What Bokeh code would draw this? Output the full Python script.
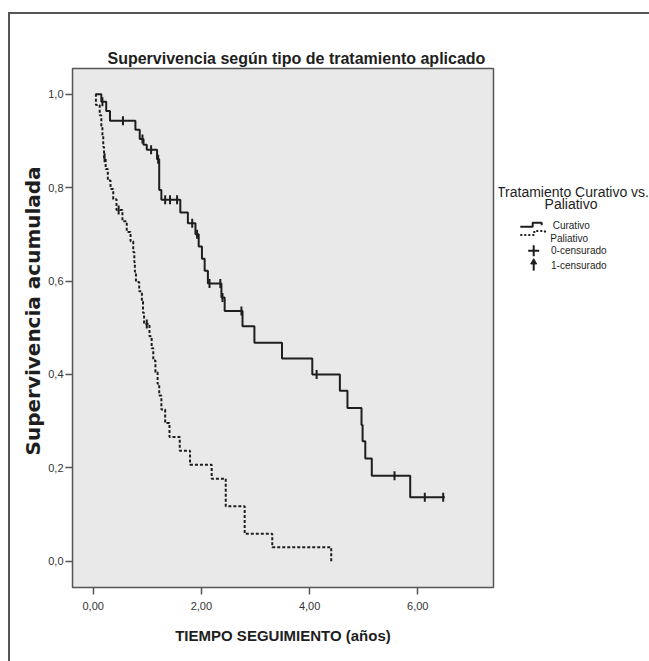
import numpy as np
from bokeh.plotting import figure
from bokeh.models import Range1d, FixedTicker, Title
from bokeh.layouts import row
from bokeh.embed import file_html
from bokeh.resources import INLINE
from bokeh.core.properties import value

# ---------------- data ----------------
# Curativo: step times (years) and survival after each step
cur_t = [0.05, 0.15, 0.24, 0.31, 0.78, 0.86, 0.93, 0.99, 1.18, 1.22, 1.26, 1.61, 1.75,
         1.89, 1.95, 2.01, 2.06, 2.12, 2.37, 2.43, 2.76, 2.98, 3.49, 4.05, 4.56, 4.70,
         4.96, 4.98, 5.03, 5.15, 5.86, 6.50]
cur_s = [1.000, 0.984, 0.964, 0.943, 0.924, 0.904, 0.892, 0.881, 0.861, 0.795, 0.774,
         0.747, 0.724, 0.700, 0.674, 0.648, 0.622, 0.595, 0.565, 0.536, 0.503, 0.468,
         0.434, 0.400, 0.365, 0.328, 0.292, 0.257, 0.220, 0.183, 0.137, 0.137]
cur_cens = [0.17, 0.55, 0.91, 1.07, 1.20, 1.33, 1.42, 1.55, 1.83, 1.92, 2.15, 2.35,
            2.39, 2.74, 4.13, 5.57, 6.13, 6.47]

# Paliativo
pal_t = [0.04, 0.05, 0.12, 0.15, 0.17, 0.185, 0.20, 0.23, 0.27, 0.32, 0.37, 0.43, 0.54,
         0.62, 0.69, 0.74, 0.76, 0.77, 0.79, 0.85, 0.90, 0.92, 0.94, 1.04, 1.08, 1.11,
         1.15, 1.19, 1.22, 1.26, 1.33, 1.41, 1.60, 1.79, 2.19, 2.45, 2.80, 3.31, 4.40]
pal_s = [1.000, 0.977, 0.955, 0.932, 0.910, 0.887, 0.864, 0.840, 0.815, 0.797, 0.775,
         0.752, 0.728, 0.705, 0.685, 0.662, 0.640, 0.620, 0.598, 0.578, 0.556, 0.532,
         0.508, 0.482, 0.456, 0.430, 0.405, 0.380, 0.355, 0.325, 0.296, 0.266, 0.237,
         0.207, 0.177, 0.118, 0.059, 0.030, 0.000]
pal_cens = [0.21, 0.47, 0.99]

x_ticks = [0, 2, 4, 6]
x_labels = ["0,00", "2,00", "4,00", "6,00"]
y_ticks = [0.0, 0.2, 0.4, 0.6, 0.8, 1.0]
y_labels = ["0,0", "0,2", "0,4", "0,6", "0,8", "1,0"]

title_text = "Supervivencia según tipo de tratamiento aplicado"
x_title = "TIEMPO SEGUIMIENTO (años)"
y_title = "Supervivencia acumulada"
legend_title = ["Tratamiento Curativo vs.", "Paliativo"]
legend_items = ["Curativo", "Paliativo", "0-censurado", "1-censurado"]


def level_at(ts, ss, t):
    idx = np.searchsorted(np.array(ts), np.array(t), side="right") - 1
    return list(np.array(ss)[idx])


FONT = "Liberation Sans"
INK = "#1e1e1e"

# ---------------- main plot ----------------
p = figure(width=488, height=647,
           x_range=Range1d(-0.383, 7.40), y_range=Range1d(-0.056, 1.055),
           output_backend="svg", toolbar_location=None,
           min_border_left=62, min_border_right=5, min_border_top=54, min_border_bottom=74)
p.background_fill_color = "#e9e9e9"
p.border_fill_color = "white"
p.outline_line_color = "#555555"
p.outline_line_width = 1.5
p.grid.visible = False

p.title.text = title_text
p.title.align = "left"
p.title.offset = 35
p.title.standoff = 3
p.title.text_font = FONT
p.title.text_font_size = "16px"
p.title.text_font_style = "bold"
p.title.text_color = INK

for ax in (p.xaxis[0], p.yaxis[0]):
    ax.axis_line_color = None
    ax.major_tick_line_color = "#555555"
    ax.major_tick_line_width = 1.5
    ax.major_tick_out = 7
    ax.major_tick_in = 0
    ax.minor_tick_line_color = None
    ax.major_label_text_font = FONT
    ax.major_label_text_font_size = "11px"
    ax.major_label_text_color = "#333333"
    ax.axis_label_text_font = FONT
    ax.axis_label_text_font_style = "bold"
    ax.axis_label_text_color = INK

p.xaxis.ticker = FixedTicker(ticks=x_ticks)
p.xaxis.major_label_overrides = dict(zip(x_ticks, x_labels))
p.xaxis.axis_label = x_title
p.xaxis.axis_label_text_font_size = "15px"
p.xaxis.major_label_standoff = 7
p.xaxis.axis_label_standoff = 14

p.yaxis.ticker = FixedTicker(ticks=y_ticks)
p.yaxis.major_label_overrides = dict(zip(y_ticks, y_labels))
p.yaxis.major_label_standoff = 2

# y-axis title as a side title (sits slightly above the frame centre)
p.add_layout(Title(text=y_title, align="left", offset=132, standoff=1,
                   text_font="DejaVu Sans", text_font_style="bold",
                   text_font_size="20px", text_color=INK), "left")

p.step(cur_t, cur_s, mode="after", line_color=INK, line_width=2)
p.step(pal_t, pal_s, mode="after", line_color=INK, line_width=2, line_dash="3 2")

p.scatter(cur_cens, level_at(cur_t, cur_s, cur_cens), marker="dash", size=9,
          angle=np.pi / 2, line_color=INK, line_width=2)
p.scatter(pal_cens, level_at(pal_t, pal_s, pal_cens), marker="dash", size=9,
          angle=np.pi / 2, line_color=INK, line_width=2)

# ---------------- legend panel ----------------
q = figure(width=151, height=647, x_range=Range1d(0, 151), y_range=Range1d(647, 0),
           output_backend="svg", toolbar_location=None, min_border=0,
           x_axis_type=None, y_axis_type=None)
q.outline_line_color = None
q.background_fill_color = "white"
q.border_fill_color = "white"

q.text([74.5, 72.5], [154, 169.5], text=legend_title, text_align="center",
       text_baseline="middle", text_font=value(FONT), text_font_size="14px",
       text_color=INK)

# Curativo symbol (solid step)
q.line([21.8, 34.2, 34.2, 43.2, 43.2], [197.2, 197.2, 192.2, 192.2, 195.5],
       line_color=INK, line_width=2)
# Paliativo symbol (dotted step)
q.line([21.8, 35.8, 35.8, 45.8, 47.5], [207.5, 207.5, 202.5, 202.5, 204.5],
       line_color=INK, line_width=2, line_dash="2 2")
# 0-censurado
q.scatter([35.2], [227.2], marker="cross", size=11, line_color=INK, line_width=2)
# 1-censurado
q.segment([35.2], [241.5], [35.2], [252], line_color=INK, line_width=2)
q.scatter([35.2], [241.5], marker="triangle", size=6, fill_color=INK, line_color=INK)

q.text([54.2, 51.8, 52.5, 52.5], [195.5, 212.5, 227.5, 246],
       text=legend_items, text_align="left", text_baseline="middle",
       text_font=value(FONT), text_font_size="10px", text_color=INK)

layout = row(p, q, styles={"border-top": "2px solid #555555",
                           "border-left": "2px solid #555555",
                           "margin": "12px 0px 0px 8px"})

open("out.html", "w").write(file_html(layout, INLINE))
